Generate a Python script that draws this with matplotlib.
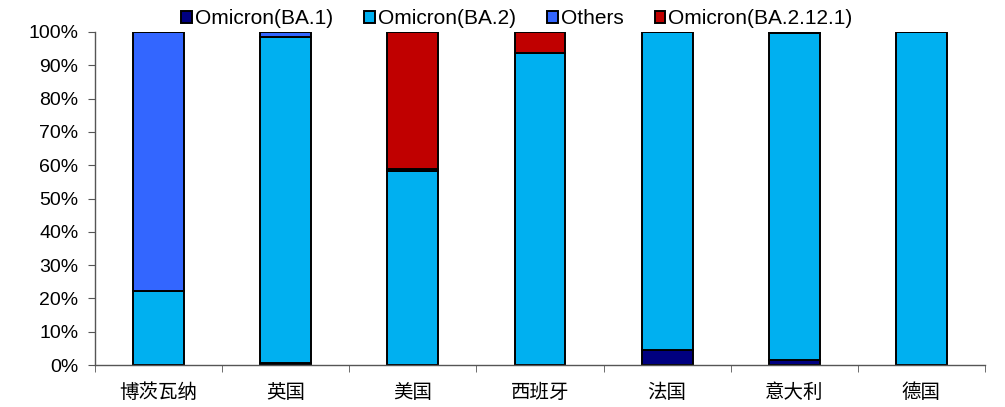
import matplotlib
matplotlib.use("Agg")
import matplotlib.pyplot as plt
from matplotlib.ticker import PercentFormatter, FixedLocator
import numpy as np

plt.rcParams['font.family'] = ['Liberation Sans', 'Noto Sans CJK SC', 'DejaVu Sans']

countries = ["博茨瓦纳", "英国", "美国", "西班牙", "法国", "意大利", "德国"]
series_names = ["Omicron(BA.1)", "Omicron(BA.2)", "Others", "Omicron(BA.2.12.1)"]
ba1 = [0.0, 0.5, 0.0, 0.0, 4.6, 1.6, 0.0]
ba2 = [22.2, 98.1, 58.2, 93.7, 95.4, 98.1, 100.0]
others = [77.8, 1.4, 0.8, 0.0, 0.0, 0.3, 0.0]
ba2121 = [0.0, 0.0, 41.0, 6.3, 0.0, 0.0, 0.0]
colors = ["#000080", "#00B0F0", "#3366FF", "#C00000"]

fig = plt.figure(figsize=(10.05, 4.07), dpi=100)
ax = fig.add_axes([95 / 1005, 42 / 407, 890 / 1005, 333 / 407])

x = np.arange(len(countries))
bottom = np.zeros(len(countries))
handles = []
for vals, name, col in zip([ba1, ba2, others, ba2121], series_names, colors):
    vals = np.array(vals)
    b = ax.bar(x, vals, width=0.4, bottom=bottom, color=col, edgecolor="black",
               linewidth=1.4, label=name)
    handles.append(b)
    bottom += vals

ax.set_xlim(-0.5, len(countries) - 0.5)
ax.set_ylim(0, 100)
ax.yaxis.set_major_locator(FixedLocator(np.arange(0, 101, 10)))
ax.yaxis.set_major_formatter(PercentFormatter(decimals=0))
ax.set_xticks(x)
ax.set_xticklabels(countries, fontsize=14, family=['Noto Sans CJK SC'])
ax.tick_params(axis='x', which='major', length=0, pad=12)
ax.set_xticks(np.arange(-0.5, len(countries), 1.0), minor=True)
ax.tick_params(axis='x', which='minor', length=5, direction='out', color='#555555')
ax.tick_params(axis='y', length=5, direction='out', color='#555555', labelsize=14, pad=7)

for s in ['top', 'right']:
    ax.spines[s].set_visible(False)
for s in ['left', 'bottom']:
    ax.spines[s].set_color('#555555')
    ax.spines[s].set_linewidth(1.0)

fig.legend(handles=handles, labels=series_names, loc='center', ncol=4,
           bbox_to_anchor=(517 / 1005, 1 - 19 / 407), frameon=False,
           fontsize=15, handlelength=0.5, handleheight=0.5, handletextpad=0.15,
           columnspacing=1.5, borderaxespad=0, borderpad=0)

fig.savefig("out.png", dpi=100)
